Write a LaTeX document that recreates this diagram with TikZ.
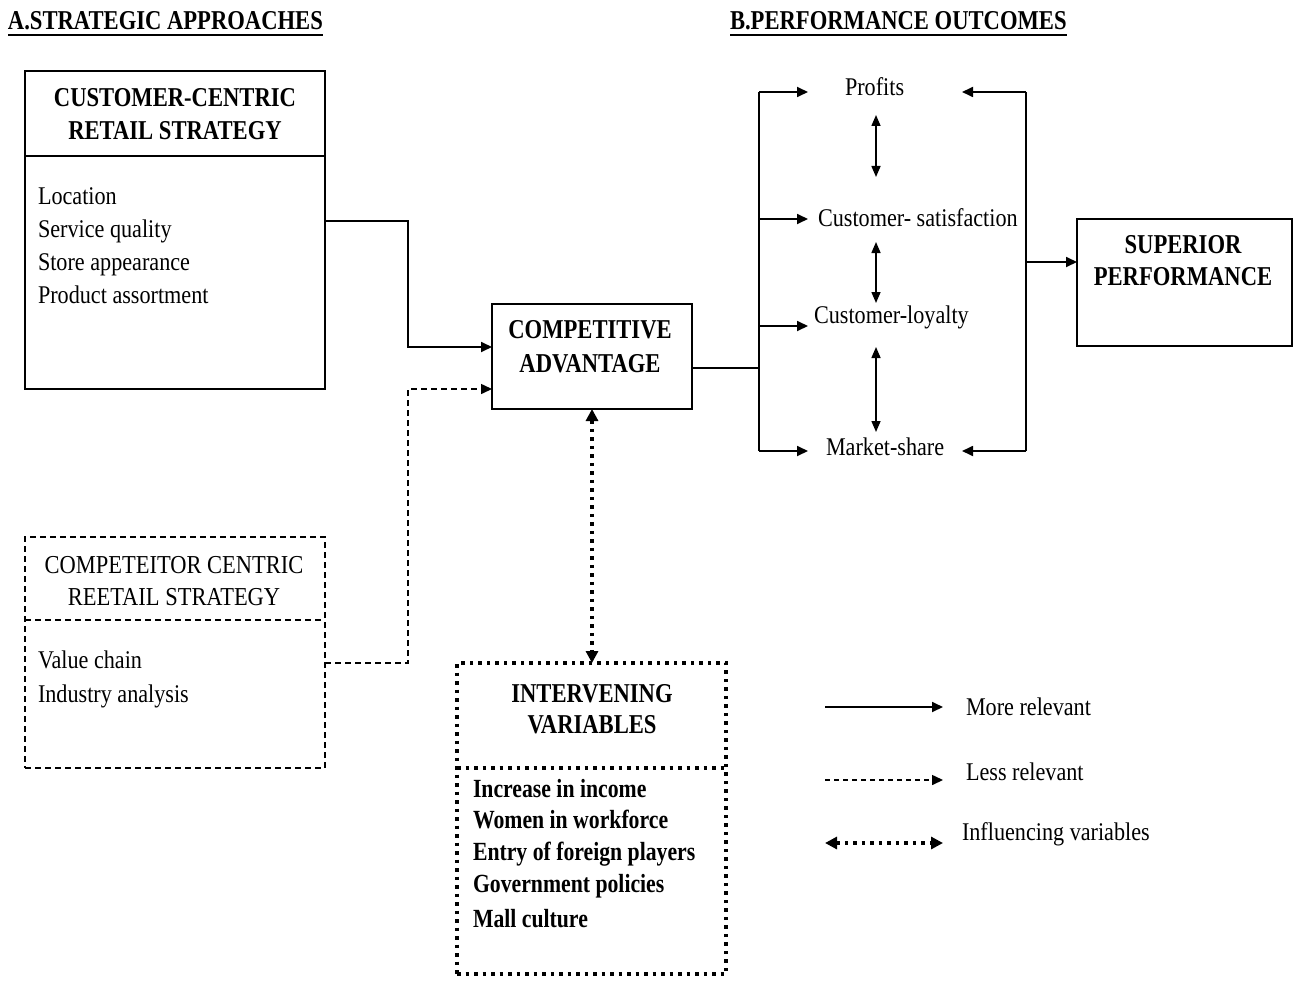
\documentclass[tikz,border=0pt]{standalone}
\usepackage{fontspec}
\setmainfont{Liberation Serif}[FakeStretch=0.87, BoldFeatures={FakeStretch=0.83}]
\usetikzlibrary{arrows.meta,fit}
\begin{document}
\begin{tikzpicture}[x=0.2mm,y=-0.2mm,
  every node/.style={inner sep=0pt, outer sep=0pt},
  tx/.style={font=\fontsize{14.5}{17}\selectfont, anchor=base west},
  txb/.style={font=\fontsize{14.9}{17}\selectfont\bfseries, anchor=base west},
  ttl/.style={font=\fontsize{15.5}{18}\selectfont\bfseries, anchor=base},
  ttlr/.style={font=\fontsize{14.7}{18}\selectfont, anchor=base},
  hd/.style={font=\fontsize{15.5}{18}\selectfont\bfseries, anchor=base west},
  solidbox/.style={draw, line width=0.4mm},
  dashbox/.style={draw, line width=0.35mm, dash pattern=on 1.2mm off 0.8mm},
  dotbox/.style={draw, line width=0.7mm, dash pattern=on 0.7mm off 1mm},
  conn/.style={line width=0.35mm},
  arr/.style={line width=0.35mm, -{Triangle[length=2.2mm,width=2mm]}},
  darr/.style={line width=0.3mm, {Triangle[length=2.2mm,width=1.8mm]}-{Triangle[length=2.2mm,width=1.8mm]}},
  dasharr/.style={line width=0.3mm, dash pattern=on 1.2mm off 0.8mm, -{Triangle[length=2.2mm,width=2mm]}},
  dotarr/.style={line width=0.7mm, dash pattern=on 0.7mm off 1mm, {Triangle[length=2.4mm,width=2.4mm]}-{Triangle[length=2.4mm,width=2.4mm]}}
]
\useasboundingbox (0,0) rectangle (1294,980);

% headers
\node[hd] (hA) at (8,30) {A.STRATEGIC APPROACHES};
\node[hd] (hB) at (730,30) {B.PERFORMANCE OUTCOMES};
\draw[line width=0.5mm] ([yshift=-1mm]hA.base west) -- ([yshift=-1mm]hA.base east);
\draw[line width=0.5mm] ([yshift=-1mm]hB.base west) -- ([yshift=-1mm]hB.base east);

% customer-centric box
\node[solidbox, fit={(25,71) (325,389)}] (cust) {};
\draw[solidbox] (cust.west |- 0,156) -- (cust.east |- 0,156);
\node[ttl] (custT1) at (175,107) {CUSTOMER-CENTRIC};
\node[ttl] (custT2) at (175,140) {RETAIL STRATEGY};
\node[tx] (c1) at (38,204) {Location};
\node[tx] (c2) at (38,237) {Service quality};
\node[tx] (c3) at (38,270) {Store appearance};
\node[tx] (c4) at (38,303) {Product assortment};

% competitor-centric box
\node[dashbox, fit={(25,537) (325,768)}] (comp) {};
\draw[dashbox] (comp.west |- 0,620) -- (comp.east |- 0,620);
\node[ttlr] (compT1) at (174,573) {COMPETEITOR CENTRIC};
\node[ttlr] (compT2) at (174,605) {REETAIL STRATEGY};
\node[tx] (p1) at (38,668) {Value chain};
\node[tx] (p2) at (38,702) {Industry analysis};

% competitive advantage
\node[solidbox, fit={(492,304) (692,409)}] (ca) {};
\node[ttl] (caT1) at (590,338) {COMPETITIVE};
\node[ttl] (caT2) at (590,372) {ADVANTAGE};

% superior performance
\node[solidbox, fit={(1077,219) (1292,346)}] (sup) {};
\node[ttl] (supT1) at (1183,253) {SUPERIOR};
\node[ttl] (supT2) at (1183,285) {PERFORMANCE};

% intervening variables
\node[dotbox, fit={(457,663) (726,974)}] (inter) {};
\draw[dotbox] (inter.west |- 0,768) -- (inter.east |- 0,768);
\node[ttl] (inT1) at (592,702) {INTERVENING};
\node[ttl] (inT2) at (592,733) {VARIABLES};
\node[txb] (i1) at (473,797) {Increase in income};
\node[txb] (i2) at (473,828) {Women in workforce};
\node[txb] (i3) at (473,860) {Entry of foreign players};
\node[txb] (i4) at (473,892) {Government policies};
\node[txb] (i5) at (473,927) {Mall culture};

% outcomes
\node[tx] (prof) at (845,96) {Profits};
\node[tx] (sat) at (818,227) {Customer- satisfaction};
\node[tx] (loy) at (814,323) {Customer-loyalty};
\node[tx] (mkt) at (826,455) {Market-share};

% left connectors
\draw[arr] (cust.east |- 0,221) -- (408,221) -- (408,347) -- (ca.west |- 0,347);
\draw[dasharr] (comp.east |- 0,663) -- (408,663) -- (408,389) -- (ca.west |- 0,389);
\draw[dotarr] (ca.south -| 592,0) -- (inter.north -| 592,0);

% left bracket
\coordinate (bj) at (759,368);
\coordinate (bl1) at (759,92);
\coordinate (bl2) at (759,219);
\coordinate (bl3) at (759,326);
\coordinate (bl4) at (759,451);
\coordinate (e1) at (808,92);
\coordinate (e2) at (808,219);
\coordinate (e3) at (808,326);
\coordinate (e4) at (808,451);
\draw[conn] (ca.east |- bj) -- (bj);
\draw[conn] (bl1) -- (bl4);
\draw[arr] (bl1) -- (e1);
\draw[arr] (bl2) -- (e2);
\draw[arr] (bl3) -- (e3);
\draw[arr] (bl4) -- (e4);

% vertical double arrows
\coordinate (v1a) at (876,115);
\coordinate (v1b) at (876,177);
\coordinate (v2a) at (876,242);
\coordinate (v2b) at (876,303);
\coordinate (v3a) at (876,347);
\coordinate (v3b) at (876,432);
\draw[darr] (v1a) -- (v1b);
\draw[darr] (v2a) -- (v2b);
\draw[darr] (v3a) -- (v3b);

% right bracket
\coordinate (br1) at (1026,92);
\coordinate (br4) at (1026,451);
\coordinate (bj2) at (1026,262);
\coordinate (f1) at (962,92);
\coordinate (f4) at (962,451);
\draw[conn] (br1) -- (br4);
\draw[arr] (br1) -- (f1);
\draw[arr] (br4) -- (f4);
\draw[arr] (bj2) -- (sup.west |- bj2);

% legend
\coordinate (l1a) at (825,707);
\coordinate (l1b) at (943,707);
\coordinate (l2a) at (825,780);
\coordinate (l2b) at (943,780);
\coordinate (l3a) at (825,843);
\coordinate (l3b) at (943,843);
\draw[arr] (l1a) -- (l1b);
\draw[line width=0.3mm, dash pattern=on 1mm off 0.8mm, -{Triangle[length=2.2mm,width=2mm]}] (l2a) -- (l2b);
\draw[dotarr] (l3a) -- (l3b);
\node[tx] (lg1) at (966,715) {More relevant};
\node[tx] (lg2) at (966,780) {Less relevant};
\node[tx] (lg3) at (962,840) {Influencing variables};
\end{tikzpicture}
\end{document}
